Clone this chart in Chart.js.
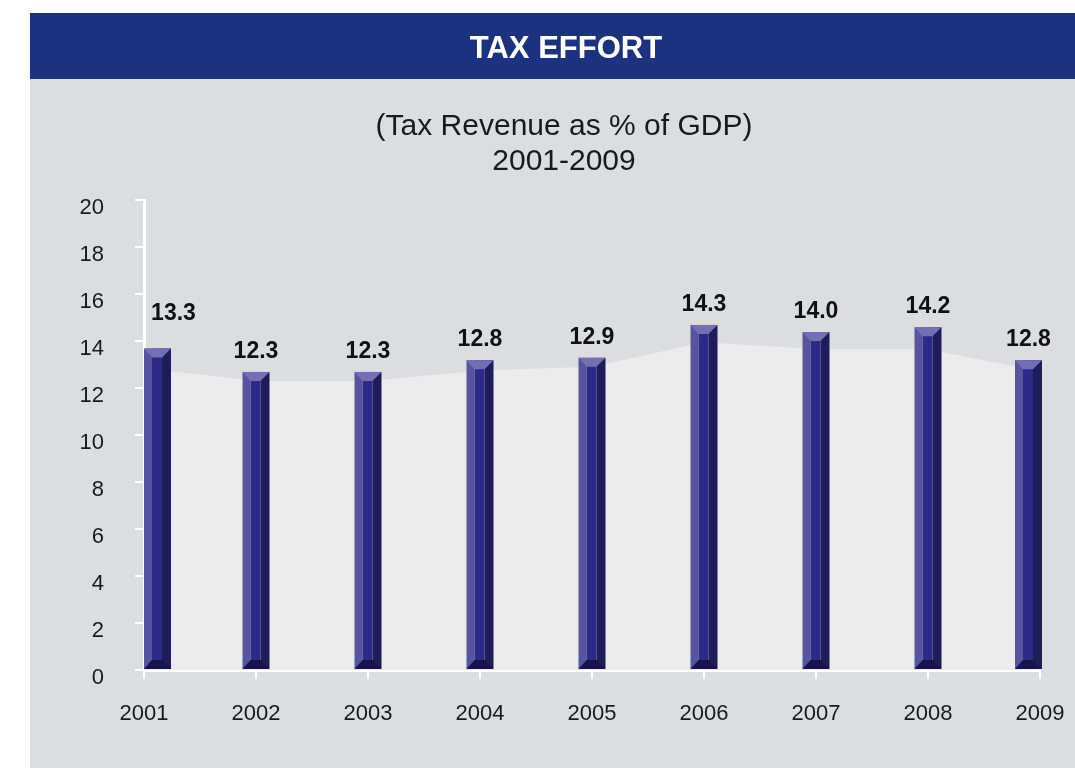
<!DOCTYPE html>
<html><head><meta charset="utf-8">
<script src="https://cdn.jsdelivr.net/npm/chart.js@4.4.0/dist/chart.umd.min.js"></script>
<style>html,body{margin:0;padding:0;background:#fff;overflow:hidden;}#wrap{width:1075px;height:768px;}</style>
</head><body><div id="wrap"><canvas id="c" width="1075" height="768"></canvas></div>
<script>
const categories = ['2001','2002','2003','2004','2005','2006','2007','2008','2009'];
const taxEffort = [13.3, 12.3, 12.3, 12.8, 12.9, 14.3, 14.0, 14.2, 12.8];
const backdropLevel = [12.85, 12.3, 12.3, 12.75, 12.9, 13.95, 13.65, 13.65, 12.7];
const yTicks = [0, 2, 4, 6, 8, 10, 12, 14, 16, 18, 20];
const headerText = 'TAX EFFORT';
const titleLines = ['(Tax Revenue as % of GDP)', '2001-2009'];

const FONT = '"Liberation Sans", Arial, Helvetica, sans-serif';

const frame = {
  id: 'frame',
  beforeDraw(chart) {
    const ctx = chart.ctx;
    ctx.save();
    ctx.fillStyle = '#ffffff';
    ctx.fillRect(0, 0, chart.width, chart.height);
    ctx.fillStyle = '#1c3280';
    ctx.fillRect(30, 13, chart.width - 30, 66);
    ctx.fillStyle = '#dcdde0';
    ctx.fillRect(30, 79, chart.width - 30, chart.height - 79);
    ctx.fillStyle = '#ffffff';
    ctx.font = 'bold 31px ' + FONT;
    ctx.textAlign = 'center';
    ctx.textBaseline = 'middle';
    ctx.fillText(headerText, 566, 49);
    ctx.fillStyle = '#1a1a1a';
    ctx.font = '30px ' + FONT;
    ctx.fillText(titleLines[0], 564, 127);
    ctx.fillText(titleLines[1], 564, 162);
    ctx.restore();
  }
};

const bars3d = {
  id: 'bars3d',
  afterDatasetsDraw(chart) {
    const ctx = chart.ctx;
    const area = chart.chartArea;
    const meta = chart.getDatasetMeta(1);
    const w = 27, cap = 9;
    ctx.save();
    meta.data.forEach((el, i) => {
      let x0 = el.x - w / 2;
      x0 = Math.max(x0, area.left);
      x0 = Math.min(x0, area.right + 2 - w);
      const base = el.base;
      const top = el.y - cap;
      ctx.fillStyle = '#56549f';
      ctx.fillRect(x0, top, 8, base - top);
      ctx.fillStyle = '#2d2a87';
      ctx.fillRect(x0 + 8, top, 10, base - top);
      ctx.fillStyle = '#1e1c5b';
      ctx.fillRect(x0 + 18, top, w - 18, base - top);
      ctx.fillStyle = '#726fb3';
      ctx.beginPath();
      ctx.moveTo(x0, top); ctx.lineTo(x0 + w, top);
      ctx.lineTo(x0 + 18, top + cap); ctx.lineTo(x0 + 8, top + cap);
      ctx.closePath(); ctx.fill();
      ctx.fillStyle = '#16144a';
      ctx.beginPath();
      ctx.moveTo(x0, base); ctx.lineTo(x0 + w, base);
      ctx.lineTo(x0 + 18, base - cap); ctx.lineTo(x0 + 8, base - cap);
      ctx.closePath(); ctx.fill();
      ctx.fillStyle = '#111111';
      ctx.font = 'bold 23px ' + FONT;
      ctx.textAlign = 'center';
      ctx.textBaseline = 'alphabetic';
      ctx.fillText(taxEffort[i].toFixed(1), x0 + w / 2 + (i === 0 ? 16 : 0), top - (i === 0 ? 28 : 14));
    });
    ctx.restore();
  }
};

new Chart(document.getElementById('c'), {
  data: {
    labels: categories,
    datasets: [
      {
        type: 'line',
        data: backdropLevel,
        fill: 'origin',
        backgroundColor: '#ececec',
        borderWidth: 0,
        borderColor: 'rgba(0,0,0,0)',
        pointRadius: 0,
        tension: 0,
        order: 2
      },
      {
        type: 'bar',
        data: taxEffort,
        backgroundColor: 'rgba(0,0,0,0)',
        borderWidth: 0,
        barThickness: 27,
        order: 1
      }
    ]
  },
  options: {
    responsive: false,
    devicePixelRatio: 1,
    animation: false,
    layout: { padding: { left: 0, top: 200, right: 35, bottom: 0 } },
    plugins: { legend: { display: false }, tooltip: { enabled: false }, title: { display: false } },
    scales: {
      x: {
        type: 'category',
        offset: false,
        afterFit(scale) { scale.height = 98; scale.paddingLeft = 0; scale.paddingRight = 0; },
        grid: { display: true, offset: false, drawOnChartArea: false, drawTicks: true, tickLength: 9, color: '#ffffff', lineWidth: 2 },
        border: { display: true, color: '#ffffff', width: 3 },
        ticks: { color: '#1a1a1a', font: { family: FONT, size: 22 }, padding: 22, maxRotation: 0, autoSkip: false }
      },
      y: {
        type: 'linear',
        min: 0,
        max: 20,
        afterFit(scale) { scale.width = 144; scale.paddingTop = 0; scale.paddingBottom = 0; },
        afterBuildTicks(scale) { scale.ticks = yTicks.map(v => ({ value: v })); },
        grid: { display: true, drawOnChartArea: false, drawTicks: true, tickLength: 9, color: '#ffffff', lineWidth: 2 },
        border: { display: true, color: '#ffffff', width: 3 },
        ticks: { color: '#1a1a1a', font: { family: FONT, size: 22 }, padding: 31, labelOffset: 8, callback: v => String(v) }
      }
    }
  },
  plugins: [frame, bars3d]
});
</script>
</body></html>
